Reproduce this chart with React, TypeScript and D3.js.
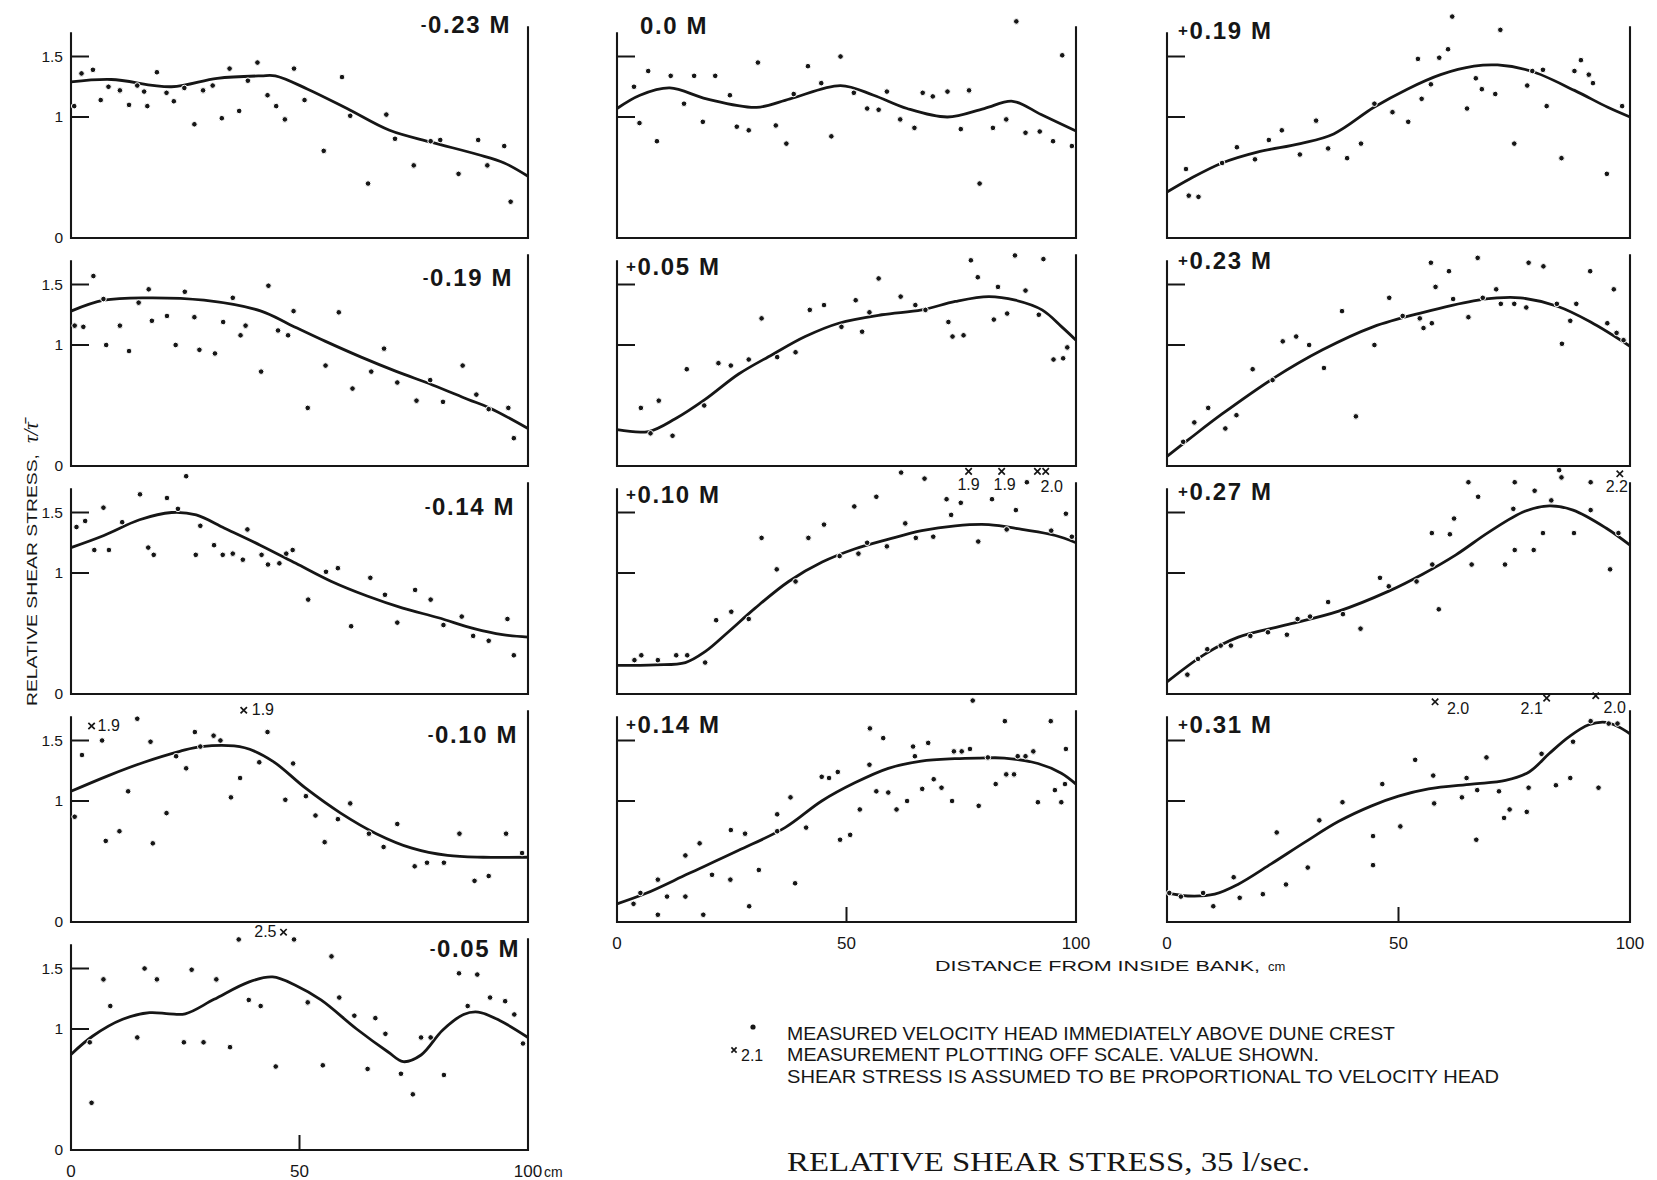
import React from 'react';
import * as d3 from 'd3';

type Pt = [number, number];
type Mark = { x: number; y: number; v: string; dx: number; dy: number; a: string };

// ---------- text ----------
const panelLabels = ['-0.23 M', '-0.19 M', '-0.14 M', '-0.10 M', '-0.05 M', '0.0 M', '+0.05 M', '+0.10 M', '+0.14 M', '+0.19 M', '+0.23 M', '+0.27 M', '+0.31 M'];
const yTickValues = [0, 1, 1.5];
const yTickLabels = ['0', '1', '1.5'];
const xTickValues = [0, 50, 100];
const xTickLabels = ['0', '50', '100'];
const yTitle = 'RELATIVE SHEAR STRESS,';
const yTitleSym = 'τ/τ̄';
const xTitle = 'DISTANCE FROM INSIDE BANK,';
const xTitleUnit = 'cm';
const legendLines = ['MEASURED VELOCITY HEAD IMMEDIATELY ABOVE DUNE CREST', 'MEASUREMENT PLOTTING OFF SCALE. VALUE SHOWN.', 'SHEAR STRESS IS ASSUMED TO BE PROPORTIONAL TO VELOCITY HEAD'];
const legendOffValue = '2.1';
const mainTitle = 'RELATIVE SHEAR STRESS, 35 l/sec.';

// ---------- data: measured points [distance cm, tau/taubar] ----------
const ptsM023: Pt[] = [[0.7,1.09],[2.3,1.36],[4.8,1.39],[6.5,1.14],[8.2,1.25],[10.7,1.22],[12.7,1.10],[14.5,1.26],[16.0,1.21],[16.7,1.09],[18.8,1.37],[20.9,1.20],[22.5,1.13],[24.8,1.24],[27.0,0.94],[28.9,1.22],[31.0,1.26],[33.0,0.99],[34.7,1.40],[36.8,1.05],[38.7,1.30],[40.8,1.45],[43.0,1.18],[44.9,1.09],[46.8,0.98],[48.8,1.40],[51.1,1.14],[55.3,0.72],[59.3,1.33],[61.1,1.01],[65.0,0.45],[69.0,1.02],[70.9,0.82],[75.0,0.60],[78.7,0.80],[80.8,0.81],[84.8,0.53],[89.1,0.81],[91.1,0.60],[94.8,0.76],[96.2,0.30]];
const fitM023: Pt[] = [[0,1.29],[8.8,1.31],[22,1.25],[32,1.32],[41.6,1.34],[44.7,1.34],[51.8,1.23],[60.4,1.07],[69.7,0.89],[79,0.79],[89,0.69],[94.8,0.62],[100,0.51]];

const ptsM019: Pt[] = [[0.8,1.16],[2.7,1.15],[4.9,1.57],[7.1,1.38],[7.7,1.00],[10.7,1.16],[12.7,0.95],[14.8,1.35],[17.0,1.46],[17.7,1.20],[21.0,1.24],[22.9,1.00],[24.9,1.44],[27.0,1.23],[28.1,0.96],[31.5,0.93],[33.3,1.19],[35.4,1.39],[37.1,1.08],[38.2,1.16],[41.6,0.78],[43.2,1.49],[45.3,1.12],[47.5,1.08],[48.7,1.28],[51.8,0.48],[55.7,0.83],[58.6,1.27],[61.6,0.64],[65.7,0.78],[68.5,0.97],[71.4,0.69],[75.6,0.54],[78.6,0.71],[81.4,0.53],[85.7,0.83],[88.7,0.59],[91.4,0.47],[95.7,0.48],[96.9,0.23]];
const fitM019: Pt[] = [[0,1.28],[7.2,1.37],[16.6,1.39],[29.1,1.37],[41.6,1.28],[47.8,1.17],[55.7,1.03],[63.5,0.90],[71.3,0.78],[79.1,0.67],[86.9,0.55],[91.6,0.48],[100,0.31]];

const ptsM014: Pt[] = [[1.2,1.38],[3.1,1.43],[5.1,1.19],[7.1,1.54],[8.3,1.19],[11.2,1.42],[15.1,1.65],[16.9,1.21],[18.1,1.15],[21.0,1.62],[23.4,1.53],[25.2,1.80],[27.3,1.15],[28.3,1.39],[31.3,1.23],[33.2,1.15],[35.4,1.16],[37.6,1.11],[38.6,1.36],[41.7,1.15],[43.1,1.07],[45.6,1.08],[47.1,1.16],[48.5,1.19],[51.9,0.78],[55.8,1.01],[58.4,1.04],[61.3,0.56],[65.5,0.96],[68.7,0.82],[71.4,0.59],[75.3,0.86],[78.7,0.78],[81.5,0.57],[85.5,0.64],[88.0,0.48],[91.4,0.44],[95.5,0.62],[96.9,0.32]];
const fitM014: Pt[] = [[0,1.21],[7.2,1.31],[15,1.44],[22,1.50],[27.4,1.48],[33.6,1.37],[41.4,1.23],[49.2,1.08],[57,0.93],[64.8,0.81],[72.6,0.71],[80.4,0.63],[88.2,0.54],[94.4,0.49],[100,0.47]];

const ptsM010: Pt[] = [[0.8,0.87],[2.4,1.38],[6.8,1.50],[7.6,0.67],[10.6,0.75],[12.5,1.08],[14.5,1.68],[17.4,1.49],[17.9,0.65],[20.9,0.90],[23.0,1.37],[25.2,1.27],[27.1,1.57],[28.3,1.45],[31.2,1.54],[32.7,1.50],[35.0,1.03],[37.0,1.19],[41.2,1.32],[43.0,1.57],[46.9,1.01],[48.6,1.31],[51.4,1.04],[53.5,0.88],[55.5,0.66],[58.4,0.85],[61.1,0.98],[65.2,0.73],[68.4,0.62],[71.4,0.81],[75.2,0.46],[77.9,0.49],[81.6,0.49],[85.0,0.73],[88.3,0.34],[91.4,0.38],[95.2,0.73],[98.7,0.57]];
const fitM010: Pt[] = [[0,1.08],[8.2,1.21],[16,1.32],[23.8,1.41],[28.5,1.45],[38,1.44],[44.1,1.33],[51.2,1.11],[59,0.90],[66.8,0.73],[74.6,0.61],[82.4,0.55],[90.2,0.535],[100,0.535]];
const marksM010: Mark[] = [{ x: 4.5, y: 1.62, v: '1.9', dx: 6, dy: 5, a: 'start' }, { x: 37.8, y: 1.75, v: '1.9', dx: 8, dy: 5, a: 'start' }];

const ptsM005: Pt[] = [[4.1,0.89],[4.5,0.39],[7.1,1.41],[8.6,1.19],[14.5,0.93],[16.1,1.50],[18.8,1.41],[24.7,0.89],[26.4,1.49],[29.0,0.89],[31.8,1.41],[34.8,0.85],[36.7,1.74],[38.9,1.24],[41.5,1.19],[44.8,0.69],[48.8,1.74],[51.8,1.22],[55.1,0.70],[57.0,1.60],[58.7,1.26],[62.0,1.11],[64.9,0.67],[66.6,1.09],[68.8,0.96],[72.2,0.63],[74.8,0.46],[76.6,0.93],[78.7,0.93],[81.6,0.62],[84.9,1.46],[86.8,1.19],[88.9,1.45],[91.7,1.26],[95.0,1.23],[97.0,1.12],[98.9,0.88]];
const fitM005: Pt[] = [[0,0.79],[4.7,0.94],[11.3,1.08],[17.2,1.135],[21.5,1.125],[25,1.125],[31.3,1.245],[39,1.39],[44.1,1.43],[49.2,1.36],[54.7,1.24],[62.5,1.0],[69.4,0.81],[72.7,0.73],[76.6,0.785],[81.3,0.99],[85.9,1.12],[89.1,1.14],[93.8,1.07],[100,0.93]];
const marksM005: Mark[] = [{ x: 46.5, y: 1.80, v: '2.5', dx: -7, dy: 5, a: 'end' }];

const pts000: Pt[] = [[3.7,1.25],[4.9,0.95],[6.8,1.38],[8.7,0.80],[11.7,1.34],[14.6,1.11],[16.8,1.34],[18.7,0.96],[21.4,1.34],[24.6,1.18],[26.1,0.92],[28.7,0.89],[30.7,1.45],[34.6,0.93],[36.9,0.78],[38.5,1.19],[41.6,1.42],[44.5,1.28],[46.7,0.84],[48.7,1.50],[51.6,1.20],[54.5,1.07],[57.0,1.06],[58.8,1.21],[61.7,0.98],[64.8,0.91],[66.6,1.20],[68.8,1.17],[72.0,1.21],[74.9,0.90],[76.7,1.22],[79.0,0.45],[81.9,0.91],[84.8,0.98],[87.0,1.79],[89.0,0.87],[92.1,0.88],[95.0,0.80],[97.0,1.51],[99.1,0.76]];
const fit000: Pt[] = [[0,1.07],[5,1.18],[11.5,1.24],[19.5,1.15],[30.4,1.08],[37.7,1.15],[48.7,1.26],[55.9,1.18],[63.2,1.07],[72,1.00],[80,1.07],[86.2,1.13],[92.4,1.02],[100,0.885]];

const ptsP005: Pt[] = [[5.2,0.48],[7.3,0.27],[9.1,0.54],[12.1,0.25],[15.2,0.80],[19.0,0.50],[22.1,0.85],[24.8,0.83],[28.7,0.88],[31.5,1.22],[34.9,0.90],[38.9,0.94],[42.0,1.29],[45.1,1.33],[48.9,1.15],[52.0,1.37],[53.4,1.11],[55.0,1.27],[57.0,1.55],[61.8,1.40],[65.0,1.33],[67.2,1.29],[72.2,1.19],[73.1,1.07],[75.5,1.08],[77.1,1.70],[78.6,1.56],[82.1,1.21],[83.0,1.48],[85.0,1.26],[86.7,1.74],[89.0,1.45],[91.9,1.25],[92.9,1.71],[95.1,0.88],[97.2,0.89],[98.1,0.98]];
const fitP005: Pt[] = [[0,0.30],[6.9,0.285],[12.7,0.39],[19.2,0.55],[26.5,0.76],[33.8,0.92],[41,1.07],[48.3,1.18],[57.7,1.25],[66.4,1.29],[73.7,1.36],[81,1.40],[86.8,1.37],[92.6,1.29],[96.9,1.15],[100,1.04]];

const ptsP010: Pt[] = [[3.8,0.28],[5.3,0.32],[8.9,0.28],[12.9,0.32],[15.3,0.32],[19.2,0.26],[21.6,0.61],[24.9,0.68],[28.7,0.62],[31.5,1.29],[34.8,1.03],[38.9,0.93],[41.7,1.29],[45.1,1.40],[48.5,1.14],[51.7,1.55],[52.6,1.16],[54.5,1.25],[56.5,1.63],[58.8,1.22],[61.9,1.83],[62.8,1.41],[65.1,1.29],[67.0,1.78],[68.9,1.30],[71.8,1.61],[72.8,1.48],[74.9,1.58],[78.7,1.26],[81.7,1.61],[84.9,1.36],[86.9,1.52],[89.3,1.75],[94.6,1.35],[97.8,1.49],[99.1,1.30]];
const fitP010: Pt[] = [[0,0.236],[8.4,0.241],[14.9,0.26],[19.2,0.35],[24.3,0.515],[30.1,0.71],[37.4,0.93],[44.7,1.09],[51.9,1.20],[59.2,1.28],[66.4,1.35],[73.7,1.39],[81,1.40],[88.2,1.36],[95.5,1.31],[100,1.25]];
const marksP010: Mark[] = [{ x: 76.6, y: 1.84, v: '1.9', dx: 0, dy: 19, a: 'middle' }, { x: 83.8, y: 1.84, v: '1.9', dx: 3, dy: 19, a: 'middle' }, { x: 91.6, y: 1.84, v: '', dx: 0, dy: 0, a: 'middle' }, { x: 93.4, y: 1.84, v: '2.0', dx: 6, dy: 21, a: 'middle' }];

const ptsP014: Pt[] = [[3.6,0.15],[5.1,0.24],[8.9,0.35],[8.9,0.06],[10.9,0.21],[14.9,0.55],[14.9,0.21],[18.0,0.65],[18.8,0.06],[20.7,0.39],[24.7,0.35],[24.8,0.76],[27.9,0.73],[28.8,0.13],[30.9,0.43],[34.9,0.89],[34.9,0.75],[37.8,1.03],[38.8,0.32],[41.2,0.78],[44.6,1.20],[46.2,1.19],[48.1,1.24],[48.6,0.68],[50.8,0.72],[52.9,0.93],[55.0,1.30],[55.1,1.60],[56.5,1.08],[58.0,1.52],[59.1,1.07],[60.9,0.93],[63.2,1.00],[64.5,1.45],[64.9,1.37],[66.5,1.10],[67.8,1.48],[69.0,1.18],[70.7,1.11],[73.0,1.00],[73.4,1.41],[75.1,1.41],[76.9,1.43],[77.5,1.83],[78.8,0.96],[80.8,1.36],[82.5,1.14],[84.5,1.66],[84.8,1.22],[86.5,1.22],[87.3,1.37],[89.0,1.37],[90.7,1.41],[91.7,0.99],[94.5,1.66],[95.4,1.09],[96.8,0.99],[97.6,1.14],[97.8,1.43]];
const fitP014: Pt[] = [[0,0.15],[6.2,0.235],[15.6,0.40],[26.4,0.59],[36.6,0.78],[44.6,1.0],[51.8,1.15],[59.1,1.27],[66.3,1.33],[73.6,1.35],[79,1.355],[84.4,1.355],[91.7,1.31],[96.8,1.23],[100,1.14]];

const ptsP019: Pt[] = [[4.1,0.57],[4.7,0.35],[6.8,0.34],[11.9,0.62],[15.1,0.75],[19.0,0.65],[22.0,0.81],[24.8,0.89],[28.7,0.69],[32.2,0.97],[34.8,0.74],[38.9,0.66],[41.9,0.78],[44.8,1.11],[48.7,1.04],[52.1,0.96],[54.2,1.48],[55.0,1.15],[57.0,1.27],[58.8,1.49],[60.7,1.56],[61.6,1.83],[64.8,1.07],[66.7,1.32],[68.0,1.23],[70.9,1.19],[72.0,1.72],[75.0,0.78],[77.8,1.26],[78.9,1.38],[81.2,1.39],[82.0,1.09],[85.2,0.66],[88.0,1.38],[89.4,1.47],[91.1,1.35],[92.0,1.28],[95.0,0.53],[98.3,1.09]];
const fitP019: Pt[] = [[0,0.38],[5,0.49],[11.9,0.62],[19.5,0.71],[28.8,0.78],[36,0.86],[44.7,1.08],[51.9,1.23],[59.1,1.35],[66.3,1.42],[71.4,1.43],[78.6,1.38],[88,1.22],[95.2,1.08],[100,1.0]];

const ptsP023: Pt[] = [[3.5,0.20],[5.9,0.36],[8.9,0.48],[12.6,0.31],[15.0,0.42],[18.5,0.80],[22.8,0.71],[25.0,1.03],[27.9,1.07],[30.7,1.00],[33.9,0.81],[37.8,1.28],[40.8,0.41],[44.8,1.00],[48.0,1.39],[50.9,1.24],[54.6,1.22],[55.4,1.14],[57.0,1.68],[57.2,1.18],[58.0,1.48],[60.9,1.61],[61.8,1.38],[65.1,1.23],[67.1,1.72],[68.2,1.39],[71.1,1.46],[72.1,1.34],[75.0,1.34],[77.6,1.31],[78.1,1.68],[81.3,1.65],[84.2,1.34],[85.3,1.01],[87.1,1.20],[88.4,1.34],[91.4,1.61],[95.1,1.18],[96.5,1.46],[97.1,1.10],[98.6,1.04]];
const fitP023: Pt[] = [[0,0.08],[4.7,0.22],[11.9,0.43],[22.8,0.72],[33.6,0.96],[44.5,1.15],[55.4,1.27],[66.2,1.365],[71.3,1.39],[76.3,1.39],[84.3,1.32],[91.5,1.19],[100,0.99]];

const ptsP027: Pt[] = [[4.4,0.16],[6.7,0.29],[8.7,0.37],[11.6,0.40],[13.8,0.40],[18.0,0.48],[21.8,0.51],[25.9,0.49],[28.2,0.62],[30.9,0.64],[34.8,0.76],[38.0,0.66],[41.8,0.54],[46.0,0.96],[47.9,0.89],[53.9,0.93],[57.2,1.33],[57.3,1.07],[58.7,0.70],[61.1,1.32],[62.0,1.45],[65.1,1.75],[65.8,1.07],[67.2,1.63],[73.0,1.07],[74.8,1.53],[75.1,1.75],[75.1,1.19],[79.2,1.19],[79.4,1.68],[81.2,1.33],[83.0,1.60],[84.7,1.85],[85.2,1.79],[87.9,1.33],[91.5,1.75],[91.5,1.52],[95.7,1.03],[97.5,1.33]];
const fitP027: Pt[] = [[0,0.10],[8.2,0.33],[15.4,0.47],[26.2,0.575],[37.1,0.685],[47.9,0.85],[55.2,0.99],[62.4,1.15],[69.6,1.34],[77.3,1.51],[82.6,1.555],[87.7,1.52],[94.9,1.37],[100,1.23]];
const marksP027: Mark[] = [{ x: 97.8, y: 1.82, v: '2.2', dx: -3, dy: 18, a: 'middle' }];

const ptsP031: Pt[] = [[0.5,0.24],[3.0,0.21],[7.8,0.24],[10.0,0.13],[14.4,0.37],[15.7,0.20],[20.7,0.23],[23.7,0.74],[25.7,0.31],[30.4,0.45],[32.9,0.84],[37.9,0.99],[44.5,0.71],[44.5,0.47],[46.5,1.14],[50.4,0.79],[53.6,1.34],[57.5,1.21],[57.7,0.98],[63.7,1.03],[64.7,1.19],[66.8,0.68],[67.0,1.09],[69.0,1.36],[71.7,1.08],[72.8,0.86],[74.0,0.93],[77.7,0.91],[78.1,1.11],[80.9,1.39],[84.0,1.13],[87.1,1.19],[87.7,1.49],[91.5,1.66],[93.2,1.11],[95.4,1.64],[97.3,1.64]];
const fitP031: Pt[] = [[0,0.24],[4.5,0.215],[10.3,0.23],[15.3,0.31],[22.5,0.48],[29.8,0.66],[37,0.83],[44.2,0.96],[50,1.04],[56.5,1.10],[65.9,1.14],[73.1,1.17],[78.2,1.24],[82.5,1.39],[86.8,1.53],[91.1,1.63],[94.8,1.65],[97.7,1.61],[100,1.555]];
const marksP031: Mark[] = [{ x: 57.9, y: 1.82, v: '2.0', dx: 23, dy: 12, a: 'middle' }, { x: 82, y: 1.85, v: '2.1', dx: -15, dy: 16, a: 'middle' }, { x: 92.6, y: 1.87, v: '2.0', dx: 19, dy: 17, a: 'middle' }];

// ---------- layout ----------
const W = 1657, H = 1180;
const COLS: [number, number][] = [[71, 528], [617, 1076], [1167, 1630]];
const ROW_ZERO = [238, 466, 694, 922, 1150];
const UNIT = 121;
const INK = '#161616';
const SANS = '"Liberation Sans", Arial, sans-serif';

type PanelCfg = { col: number; row: number; lx: number; ly: number; anchor: string; xAxis?: boolean; unit?: boolean };
const layout: PanelCfg[] = [
  { col: 0, row: 0, lx: 511, ly: 33, anchor: 'end' },
  { col: 0, row: 1, lx: 513, ly: 286, anchor: 'end' },
  { col: 0, row: 2, lx: 515, ly: 515, anchor: 'end' },
  { col: 0, row: 3, lx: 518, ly: 743, anchor: 'end' },
  { col: 0, row: 4, lx: 520, ly: 957, anchor: 'end', xAxis: true, unit: true },
  { col: 1, row: 0, lx: 640, ly: 34, anchor: 'start' },
  { col: 1, row: 1, lx: 626, ly: 275, anchor: 'start' },
  { col: 1, row: 2, lx: 626, ly: 503, anchor: 'start' },
  { col: 1, row: 3, lx: 626, ly: 733, anchor: 'start', xAxis: true },
  { col: 2, row: 0, lx: 1178, ly: 39, anchor: 'start' },
  { col: 2, row: 1, lx: 1178, ly: 269, anchor: 'start' },
  { col: 2, row: 2, lx: 1178, ly: 500, anchor: 'start' },
  { col: 2, row: 3, lx: 1178, ly: 733, anchor: 'start', xAxis: true },
];

const series: { pts: Pt[]; fit: Pt[]; marks: Mark[] }[] = [
  { pts: ptsM023, fit: fitM023, marks: [] },
  { pts: ptsM019, fit: fitM019, marks: [] },
  { pts: ptsM014, fit: fitM014, marks: [] },
  { pts: ptsM010, fit: fitM010, marks: marksM010 },
  { pts: ptsM005, fit: fitM005, marks: marksM005 },
  { pts: pts000, fit: fit000, marks: [] },
  { pts: ptsP005, fit: fitP005, marks: [] },
  { pts: ptsP010, fit: fitP010, marks: marksP010 },
  { pts: ptsP014, fit: fitP014, marks: [] },
  { pts: ptsP019, fit: fitP019, marks: [] },
  { pts: ptsP023, fit: fitP023, marks: [] },
  { pts: ptsP027, fit: fitP027, marks: marksP027 },
  { pts: ptsP031, fit: fitP031, marks: marksP031 },
];

function Cross({ cx, cy, s = 3.2 }: { cx: number; cy: number; s?: number }) {
  return <path d={`M${cx - s},${cy - s}L${cx + s},${cy + s}M${cx - s},${cy + s}L${cx + s},${cy - s}`} stroke={INK} strokeWidth={1.7} fill="none" />;
}

function PanelLabel({ text, x, y, anchor }: { text: string; x: number; y: number; anchor: string }) {
  const sign = text[0] === '+' || text[0] === '-' ? text[0] : '';
  const rest = sign ? text.slice(1) : text;
  return (
    <text x={x} y={y} textAnchor={anchor} fontFamily={SANS} fontWeight="bold" fontSize={24} letterSpacing={1.6} fill={INK}>
      {sign && <tspan fontSize={17} dy={-3}>{sign}</tspan>}
      <tspan dy={sign ? 3 : 0}>{rest}</tspan>
    </text>
  );
}

function Panel({ cfg, label, pts, fit, marks }: { cfg: PanelCfg; label: string; pts: Pt[]; fit: Pt[]; marks: Mark[] }) {
  const [x0, x1] = COLS[cfg.col];
  const zero = ROW_ZERO[cfg.row];
  const x = d3.scaleLinear().domain([0, 100]).range([x0, x1]);
  const y = d3.scaleLinear().domain([0, 1]).range([zero, zero - UNIT]);
  const line = d3.line<Pt>().x(d => x(d[0])).y(d => y(d[1])).curve(d3.curveCatmullRom.alpha(0.5));
  return (
    <g>
      <path d={`M${x0},${y(1.70)}V${zero}H${x1}V${y(1.75)}`} fill="none" stroke={INK} strokeWidth={2.1} />
      {[1, 1.5].map(v => (
        <line key={v} x1={x0} x2={x0 + 18} y1={y(v)} y2={y(v)} stroke={INK} strokeWidth={2} />
      ))}
      {cfg.col === 0 && yTickValues.map((v, i) => (
        <text key={v} x={x0 - 8} y={y(v) + 5} textAnchor="end" fontFamily={SANS} fontSize={15.5} fill={INK}>{yTickLabels[i]}</text>
      ))}
      {cfg.xAxis && (
        <g>
          <line x1={x(50)} x2={x(50)} y1={zero} y2={zero - 15} stroke={INK} strokeWidth={2} />
          {xTickValues.map((v, i) => (
            <text key={v} x={x(v)} y={zero + 27} textAnchor="middle" fontFamily={SANS} fontSize={17} fill={INK}>{xTickLabels[i]}</text>
          ))}
          {cfg.unit && <text x={x(100) + 16} y={zero + 27} fontFamily={SANS} fontSize={14} fill={INK}>{xTitleUnit}</text>}
        </g>
      )}
      <path d={line(fit) || ''} fill="none" stroke={INK} strokeWidth={2.8} strokeLinejoin="round" />
      {pts.map((d, i) => (
        <circle key={i} cx={x(d[0])} cy={y(d[1])} r={2.8} fill={INK} stroke="#fff" strokeWidth={1} />
      ))}
      {marks.map((m, i) => (
        <g key={i}>
          <Cross cx={x(m.x)} cy={y(m.y)} />
          {m.v && <text x={x(m.x) + m.dx} y={y(m.y) + m.dy} textAnchor={m.a} fontFamily={SANS} fontSize={16} fill={INK}>{m.v}</text>}
        </g>
      ))}
      <PanelLabel text={label} x={cfg.lx} y={cfg.ly} anchor={cfg.anchor} />
    </g>
  );
}

export default function App() {
  return (
    <svg width={W} height={H} viewBox={`0 0 ${W} ${H}`} style={{ position: 'absolute', left: 0, top: 0, background: '#fff' }}>
      <rect width={W} height={H} fill="#fff" />
      {layout.map((cfg, i) => (
        <Panel key={i} cfg={cfg} label={panelLabels[i]} pts={series[i].pts} fit={series[i].fit} marks={series[i].marks} />
      ))}
      {/* y-axis title */}
      <text transform="translate(37,706) rotate(-90)" fontFamily={SANS} fontSize={15.5} fill={INK} textLength={252} lengthAdjust="spacingAndGlyphs">{yTitle}</text>
      <text transform="translate(38,443) rotate(-90)" fontFamily='"Liberation Serif", serif' fontStyle="italic" fontSize={21} fill={INK}>{yTitleSym}</text>
      {/* x-axis title */}
      <text x={935} y={971} fontFamily={SANS} fontSize={15.5} fill={INK} textLength={325} lengthAdjust="spacingAndGlyphs">{xTitle}</text>
      <text x={1268} y={971} fontFamily={SANS} fontSize={13} fill={INK}>{xTitleUnit}</text>
      {/* legend */}
      <circle cx={753} cy={1027} r={2.6} fill={INK} />
      <text x={787} y={1040} fontFamily={SANS} fontSize={17.5} fill={INK} textLength={608} lengthAdjust="spacingAndGlyphs">{legendLines[0]}</text>
      <Cross cx={734} cy={1050} s={2.6} />
      <text x={741} y={1061} fontFamily={SANS} fontSize={16} fill={INK}>{legendOffValue}</text>
      <text x={787} y={1061} fontFamily={SANS} fontSize={17.5} fill={INK} textLength={532} lengthAdjust="spacingAndGlyphs">{legendLines[1]}</text>
      <text x={787} y={1083} fontFamily={SANS} fontSize={17.5} fill={INK} textLength={712} lengthAdjust="spacingAndGlyphs">{legendLines[2]}</text>
      {/* title */}
      <text x={787} y={1171} fontFamily='"Liberation Serif", "DejaVu Serif", serif' fontSize={27} fill={INK} textLength={523} lengthAdjust="spacingAndGlyphs">{mainTitle}</text>
    </svg>
  );
}
